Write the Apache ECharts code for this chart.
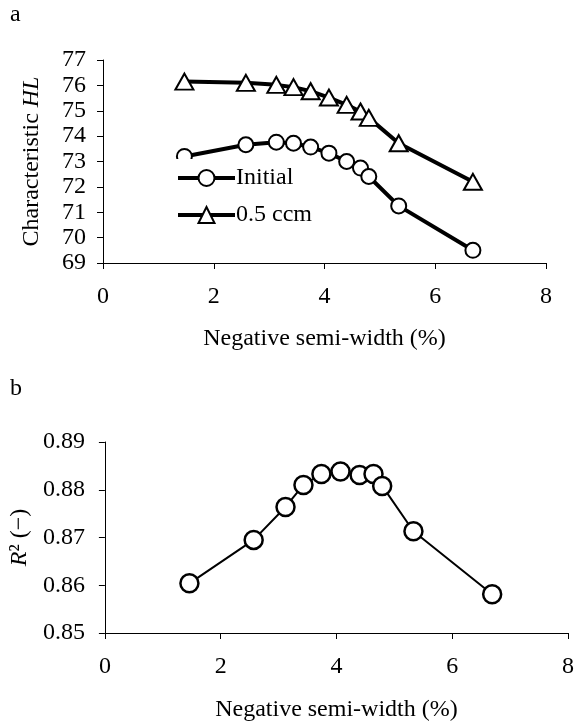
<!DOCTYPE html>
<html>
<head>
<meta charset="utf-8">
<script src="https://cdn.jsdelivr.net/npm/echarts@6/dist/echarts.min.js"></script>
<style>
html,body{margin:0;padding:0;background:#fff;}
#c{width:577px;height:723px;}
</style>
</head>
<body>
<div id="c"></div>
<script>
// ---- data ----
var widthA = [1.47, 2.58, 3.13, 3.44, 3.75, 4.08, 4.40, 4.65, 4.80, 5.34, 6.68];
var hlInitial = [73.20, 73.66, 73.76, 73.72, 73.57, 73.33, 73.00, 72.74, 72.41, 71.25, 69.50];
var hlCcm = [76.15, 76.10, 76.02, 75.93, 75.77, 75.52, 75.23, 74.97, 74.72, 73.72, 72.20];
var widthB = [1.46, 2.57, 3.12, 3.43, 3.74, 4.07, 4.40, 4.64, 4.79, 5.33, 6.69];
var r2 = [0.8604, 0.8695, 0.8764, 0.8810, 0.8833, 0.8838, 0.8831, 0.8833, 0.8808, 0.8713, 0.8581];
var xTicks = [0, 2, 4, 6, 8];
var seriesNames = ['Initial', '0.5 ccm'];

function pairs(xs, ys){ return xs.map(function(x,i){ return [x, ys[i]]; }); }

var FONT = '"Liberation Serif", "Times New Roman", serif';
var FS = 24;
var axisLineStyle = {color:'#000', width:1};

var chart = echarts.init(document.getElementById('c'), null, {renderer:'canvas'});
chart.setOption({
  backgroundColor:'#fff',
  animation:false,
  textStyle:{fontFamily:FONT, color:'#000'},
  graphic:[
    {type:'text', left:10, top:3, style:{text:'a', font:FS+'px '+FONT, fill:'#000'}},
    {type:'text', left:10, top:377, style:{text:'b', font:FS+'px '+FONT, fill:'#000'}}
  ],
  legend:{
    orient:'vertical',
    left:171, top:159,
    padding:[7,4,4,5],
    backgroundColor:'#fff',
    itemWidth:57, itemHeight:20, itemGap:13,
    lineStyle:{width:4, color:'#000'},
    textStyle:{fontFamily:FONT, fontSize:FS, color:'#000', padding:[0,0,0,-4]},
    data:seriesNames
  },
  grid:[
    {left:103, top:60, width:443, height:203},
    {left:103, top:442, width:469, height:191}
  ],
  xAxis:[
    {gridIndex:0, type:'value', min:xTicks[0], max:xTicks[xTicks.length-1], interval:2,
     axisLine:{lineStyle:axisLineStyle}, axisTick:{show:true, length:6, lineStyle:axisLineStyle},
     splitLine:{show:false},
     axisLabel:{color:'#000', fontFamily:FONT, fontSize:FS, margin:22},
     name:'Negative semi-width (%)', nameLocation:'middle', nameGap:64,
     nameTextStyle:{color:'#000', fontFamily:FONT, fontSize:FS}},
    {gridIndex:1, type:'value', min:xTicks[0], max:xTicks[xTicks.length-1], interval:2,
     axisLine:{lineStyle:axisLineStyle}, axisTick:{show:true, length:6, lineStyle:axisLineStyle},
     splitLine:{show:false},
     axisLabel:{color:'#000', fontFamily:FONT, fontSize:FS, margin:22},
     name:'Negative semi-width (%)', nameLocation:'middle', nameGap:65,
     nameTextStyle:{color:'#000', fontFamily:FONT, fontSize:FS}}
  ],
  yAxis:[
    {gridIndex:0, type:'value', min:69, max:77, interval:1,
     axisLine:{show:true, lineStyle:axisLineStyle}, axisTick:{show:true, length:6, lineStyle:axisLineStyle},
     splitLine:{show:false},
     axisLabel:{color:'#000', fontFamily:FONT, fontSize:FS, margin:17},
     name:'{n|Characteristic }{i|HL}', nameLocation:'middle', nameGap:59,
     nameTextStyle:{rich:{
       n:{fontFamily:FONT, fontSize:FS, color:'#000'},
       i:{fontFamily:FONT, fontSize:FS, color:'#000', fontStyle:'italic'}}}},
    {gridIndex:1, type:'value', min:0.85, max:0.89, interval:0.01,
     axisLine:{show:true, lineStyle:axisLineStyle}, axisTick:{show:true, length:6, lineStyle:axisLineStyle},
     splitLine:{show:false},
     axisLabel:{color:'#000', fontFamily:FONT, fontSize:FS, margin:20,
       formatter:function(v){ return v.toFixed(2); }},
     name:'{i|R}{n|² (−)}', nameLocation:'middle', nameGap:59,
     nameTextStyle:{rich:{
       n:{fontFamily:FONT, fontSize:FS, color:'#000'},
       i:{fontFamily:FONT, fontSize:FS, color:'#000', fontStyle:'italic'}}}}
  ],
  series:[
    {name:seriesNames[0], type:'line', xAxisIndex:0, yAxisIndex:0,
     data:pairs(widthA, hlInitial),
     symbol:'circle', symbolSize:15,
     lineStyle:{color:'#000', width:4},
     itemStyle:{color:'#fff', borderColor:'#000', borderWidth:2},
     z:3},
    {name:seriesNames[1], type:'line', xAxisIndex:0, yAxisIndex:0,
     data:pairs(widthA, hlCcm),
     symbol:'triangle', symbolSize:[18,16],
     lineStyle:{color:'#000', width:4},
     itemStyle:{color:'#fff', borderColor:'#000', borderWidth:2},
     z:3},
    {name:'R2', type:'line', xAxisIndex:1, yAxisIndex:1,
     data:pairs(widthB, r2),
     symbol:'circle', symbolSize:18,
     lineStyle:{color:'#000', width:2},
     itemStyle:{color:'#fff', borderColor:'#000', borderWidth:2.5},
     z:3}
  ]
});
</script>
</body>
</html>
